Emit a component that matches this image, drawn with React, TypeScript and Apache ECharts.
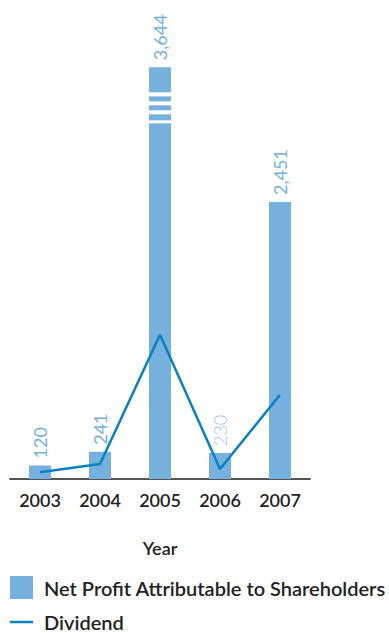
import React, { useEffect, useRef } from "react";
import * as echarts from "echarts";

const years = ["2003", "2004", "2005", "2006", "2007"];
const netProfit = [120, 241, 3644, 230, 2451];
const dividend = [59, 133, 1276, 88, 745];
const breakCategory = "2005";
// value ranges (start, end) of the white break stripes on the tall bar
const breakStarts = [3386, 3307, 3227, 3148];
const breakEnds = [3422, 3342, 3263, 3174];

export default function App() {
  const ref = useRef<HTMLDivElement>(null);
  useEffect(() => {
    document.body.style.margin = "0";
    const chart = echarts.init(ref.current!, null, { renderer: "svg" });
    const font = "Lato, 'Noto Sans', sans-serif";
    const stripeData = breakStarts.map((s, i) => [breakCategory, s, breakEnds[i]]);
    const legendText = { fontSize: 20, color: "#222", fontFamily: font, fontWeight: 600, padding: [0, 0, 0, 6] };
    chart.setOption({
      animation: false,
      grid: { left: 10, right: 79, top: 27, bottom: 154 },
      legend: [
        {
          left: 10,
          top: 576,
          padding: 0,
          itemWidth: 23,
          itemHeight: 23,
          textStyle: legendText,
          data: [{ name: "Net Profit Attributable to Shareholders", icon: "rect" }],
        },
        {
          left: 10,
          top: 612,
          padding: 0,
          itemWidth: 23,
          itemHeight: 23,
          textStyle: legendText,
          data: [{ name: "Dividend", icon: "path://M0,0H23V2.5H0Z" }],
        },
      ],
      xAxis: {
        type: "category",
        data: years,
        name: "Year",
        nameLocation: "middle",
        nameGap: 60,
        nameTextStyle: { fontSize: 18, color: "#222", fontFamily: font, fontWeight: 600 },
        axisLine: { lineStyle: { color: "#555", width: 2 } },
        axisTick: { show: false },
        axisLabel: { fontSize: 18, color: "#222", fontFamily: font, fontWeight: 600, margin: 12 },
      },
      yAxis: { type: "value", min: 0, max: 4000, show: false, splitLine: { show: false } },
      series: [
        {
          name: "Net Profit Attributable to Shareholders",
          type: "bar",
          data: netProfit.map((v, i) =>
            years[i] === "2006"
              ? { value: v, label: { color: "#a3c8e9", fontWeight: 300 } }
              : v
          ),
          barWidth: 22,
          itemStyle: { color: "#76b1dd" },
          label: {
            show: true,
            position: "top",
            rotate: 90,
            align: "left",
            verticalAlign: "middle",
            distance: 7,
            fontSize: 18,
            fontFamily: font,
            color: "#76b1dd",
            formatter: (p: any) => Number(p.value).toLocaleString("en-US"),
          },
          z: 2,
        },
        {
          name: "breaks",
          type: "custom",
          data: stripeData,
          renderItem: (params: any, api: any) => {
            const bw = 22;
            const p1 = api.coord([api.value(0), api.value(1)]);
            const p2 = api.coord([api.value(0), api.value(2)]);
            return {
              type: "rect",
              shape: { x: p1[0] - bw / 2, y: p2[1], width: bw, height: p1[1] - p2[1] },
              style: { fill: "#ffffff" },
            };
          },
          z: 3,
          silent: true,
        },
        {
          name: "Dividend",
          type: "line",
          data: dividend,
          symbol: "none",
          lineStyle: { color: "#0a80c3", width: 2.5 },
          itemStyle: { color: "#0a80c3" },
          z: 4,
        },
      ],
    });
    return () => chart.dispose();
  }, []);
  return <div ref={ref} style={{ width: 389, height: 633 }} />;
}
